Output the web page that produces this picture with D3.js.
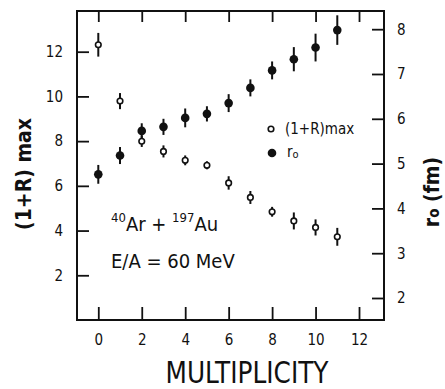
<!DOCTYPE html>
<html>
<head>
<meta charset="utf-8">
<script src="https://cdn.jsdelivr.net/npm/d3@7"></script>
<style>
  html, body { margin: 0; padding: 0; background: #fff; }
  svg { display: block; }
  text { fill: #111; font-family: 'Liberation Sans Narrow', 'DejaVu Sans Condensed', 'Arial Narrow', sans-serif; }
</style>
</head>
<body>
<svg id="chart" width="445" height="389"></svg>
<script>
// Multiplicity bins
const multiplicity = [0, 1, 2, 3, 4, 5, 6, 7, 8, 9, 10, 11];
// (1+R)max, left axis, with errors
const ratioMax = [12.31, 9.79, 7.99, 7.54, 7.14, 6.92, 6.13, 5.48, 4.84, 4.43, 4.14, 3.72];
const ratioErr = [0.53, 0.36, 0.25, 0.27, 0.22, 0.18, 0.30, 0.29, 0.22, 0.38, 0.36, 0.40];
// source radius r0 in fm, right axis, with errors
const radius = [4.76, 5.18, 5.73, 5.82, 6.02, 6.11, 6.35, 6.69, 7.08, 7.33, 7.59, 7.98];
const radiusErr = [0.21, 0.19, 0.17, 0.18, 0.21, 0.17, 0.20, 0.19, 0.20, 0.27, 0.31, 0.33];
// Tick values
const xTicks = [0, 2, 4, 6, 8, 10, 12];
const leftTicks = [2, 4, 6, 8, 10, 12];
const rightTicks = [2, 3, 4, 5, 6, 7, 8];

const svg = d3.select("#chart");
const plotL = 77, plotR = 384, plotT = 11, plotB = 320;

const x = d3.scaleLinear().domain([-0.98, 13.15]).range([plotL, plotR]);
const yL = d3.scaleLinear().domain([0, 13.82]).range([plotB, plotT]);
const yR = d3.scaleLinear().domain([1.509, 8.406]).range([plotB, plotT]);

const ink = "#111";
const intFmt = d3.format("d");

// axes with inward ticks
const gB = svg.append("g").attr("transform", `translate(0,${plotB})`)
  .call(d3.axisBottom(x).tickValues(xTicks).tickFormat(intFmt).tickSizeInner(-13).tickSizeOuter(0).tickPadding(14));
const gT = svg.append("g").attr("transform", `translate(0,${plotT})`)
  .call(d3.axisTop(x).tickValues(xTicks).tickSizeInner(-11).tickSizeOuter(0).tickFormat(""));
const gL = svg.append("g").attr("transform", `translate(${plotL},0)`)
  .call(d3.axisLeft(yL).tickValues(leftTicks).tickFormat(intFmt).tickSizeInner(-12).tickSizeOuter(0).tickPadding(14));
const gR = svg.append("g").attr("transform", `translate(${plotR},0)`)
  .call(d3.axisRight(yR).tickValues(rightTicks).tickFormat(intFmt).tickSizeInner(-12).tickSizeOuter(0).tickPadding(13));

[gB, gT, gL, gR].forEach(g => {
  g.select(".domain").remove();
  g.selectAll(".tick line").attr("stroke", ink).attr("stroke-width", 1.8);
  g.selectAll(".tick text").attr("fill", ink).style("font-size", "15px");
});

// frame
svg.append("rect")
  .attr("x", plotL).attr("y", plotT)
  .attr("width", plotR - plotL).attr("height", plotB - plotT)
  .attr("fill", "none").attr("stroke", ink).attr("stroke-width", 2);

// r0 series (filled), right axis
const gr = svg.append("g");
multiplicity.forEach((m, i) => {
  gr.append("line")
    .attr("x1", x(m)).attr("x2", x(m))
    .attr("y1", yR(radius[i] - radiusErr[i])).attr("y2", yR(radius[i] + radiusErr[i]))
    .attr("stroke", ink).attr("stroke-width", 2);
  gr.append("circle").attr("cx", x(m)).attr("cy", yR(radius[i])).attr("r", 4.3).attr("fill", ink);
});

// (1+R)max series (open), left axis
const go = svg.append("g");
multiplicity.forEach((m, i) => {
  go.append("line")
    .attr("x1", x(m)).attr("x2", x(m))
    .attr("y1", yL(ratioMax[i] - ratioErr[i])).attr("y2", yL(ratioMax[i] + ratioErr[i]))
    .attr("stroke", ink).attr("stroke-width", 2);
  go.append("circle").attr("cx", x(m)).attr("cy", yL(ratioMax[i])).attr("r", 2.8)
    .attr("fill", "#fff").attr("stroke", ink).attr("stroke-width", 1.6);
});

// legend
svg.append("circle").attr("cx", 271).attr("cy", 129).attr("r", 2.8)
  .attr("fill", "#fff").attr("stroke", ink).attr("stroke-width", 1.6);
svg.append("text").attr("x", 285).attr("y", 134).style("font-size", "15px").text("(1+R)max");
svg.append("circle").attr("cx", 272).attr("cy", 153).attr("r", 4.3).attr("fill", ink);
const lr = svg.append("text").attr("x", 287).attr("y", 157).style("font-size", "15px");
lr.append("tspan").text("r");
lr.append("tspan").attr("dy", 1).style("font-size", "11px").text("o");

// reaction annotation
const ann = svg.append("text").attr("x", 111).attr("y", 231).style("font-size", "20px");
ann.append("tspan").attr("dy", -9).style("font-size", "13px").text("40");
ann.append("tspan").attr("dy", 9).text("Ar + ");
ann.append("tspan").attr("dy", -9).style("font-size", "13px").text("197");
ann.append("tspan").attr("dy", 9).text("Au");
svg.append("text").attr("x", 111).attr("y", 268).style("font-size", "20px").text("E/A = 60 MeV");

// axis titles
svg.append("text").attr("x", 247).attr("y", 383)
  .attr("text-anchor", "middle").style("font-size", "31px")
  .attr("textLength", 163).attr("lengthAdjust", "spacingAndGlyphs")
  .text("MULTIPLICITY");

svg.append("text")
  .attr("transform", "translate(31,174) rotate(-90)")
  .attr("text-anchor", "middle").style("font-size", "21px").style("font-weight", "bold")
  .text("(1+R) max");

const rt = svg.append("text")
  .attr("transform", "translate(439,192) rotate(-90)")
  .attr("text-anchor", "middle").style("font-size", "21px").style("font-weight", "bold");
rt.append("tspan").text("r");
rt.append("tspan").style("font-size", "15px").text("o");
rt.append("tspan").text(" (fm)");
</script>
</body>
</html>
